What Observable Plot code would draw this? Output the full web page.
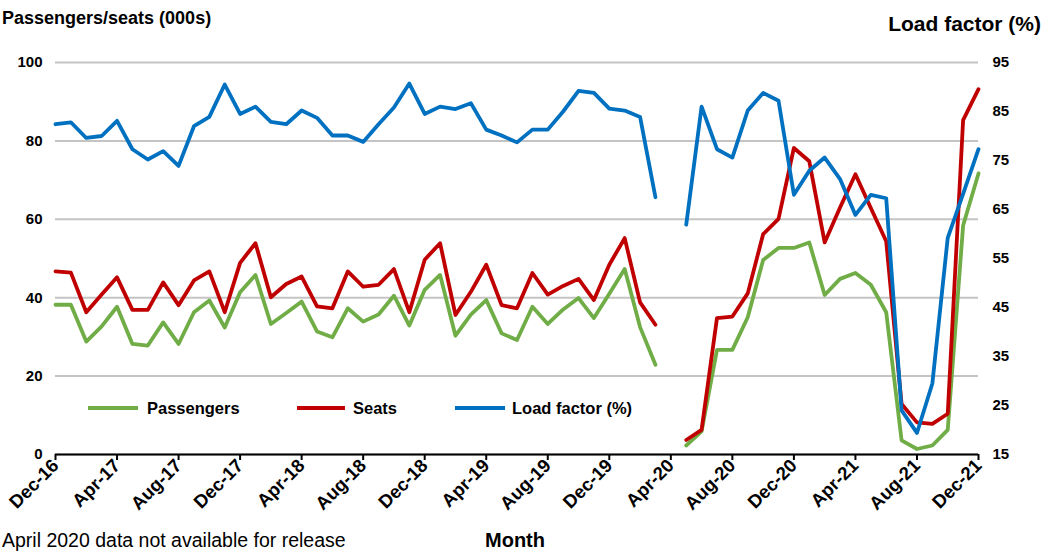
<!DOCTYPE html>
<html><head><meta charset="utf-8">
<script src="https://cdn.jsdelivr.net/npm/d3@7"></script>
<script src="https://cdn.jsdelivr.net/npm/@observablehq/plot@0.6"></script>
<style>
html,body{margin:0;padding:0;background:#fff;overflow:hidden;}
#chart{position:relative;width:1046px;height:553px;overflow:hidden;}
</style></head><body><div id="chart"></div>
<script>
const months = ["Dec-16","Jan-17","Feb-17","Mar-17","Apr-17","May-17","Jun-17","Jul-17","Aug-17","Sep-17","Oct-17","Nov-17",
"Dec-17","Jan-18","Feb-18","Mar-18","Apr-18","May-18","Jun-18","Jul-18","Aug-18","Sep-18","Oct-18","Nov-18",
"Dec-18","Jan-19","Feb-19","Mar-19","Apr-19","May-19","Jun-19","Jul-19","Aug-19","Sep-19","Oct-19","Nov-19",
"Dec-19","Jan-20","Feb-20","Mar-20","Apr-20","May-20","Jun-20","Jul-20","Aug-20","Sep-20","Oct-20","Nov-20",
"Dec-20","Jan-21","Feb-21","Mar-21","Apr-21","May-21","Jun-21","Jul-21","Aug-21","Sep-21","Oct-21","Nov-21","Dec-21"];
const passengers = [38.2,38.2,28.8,32.7,37.7,28.2,27.8,33.7,28.2,36.3,39.3,32.4,
41.4,45.8,33.3,36.1,39.0,31.4,29.9,37.3,33.9,35.7,40.5,32.9,
42.0,45.8,30.3,35.7,39.4,30.9,29.2,37.7,33.3,37.0,39.9,34.8,
41.0,47.3,32.5,22.9,null,2.3,5.9,26.7,26.7,35.0,49.6,52.7,
52.7,54.1,40.7,44.8,46.3,43.3,36.3,3.6,1.4,2.3,6.3,58.4,71.7];
const seats = [46.7,46.4,36.3,40.8,45.2,36.9,36.9,43.9,38.1,44.4,46.7,36.3,
48.9,53.9,40.1,43.5,45.4,37.8,37.3,46.7,42.8,43.3,47.3,36.3,
49.7,53.9,35.6,41.5,48.4,38.1,37.3,46.3,40.8,43.0,44.8,39.4,
48.4,55.2,38.8,33.1,null,3.7,6.3,34.8,35.2,41.1,56.2,60.1,
78.2,74.8,54.1,63.0,71.5,62.9,54.4,12.9,8.2,7.8,10.4,85.3,93.2];
const loadFactor = [82.4,82.8,79.6,80.0,83.1,77.3,75.2,76.9,73.9,82.0,83.9,90.5,
84.5,86.0,82.9,82.4,85.2,83.7,80.1,80.1,78.8,82.4,85.8,90.7,
84.5,86.0,85.5,86.7,81.3,80.1,78.7,81.3,81.3,85.0,89.2,88.8,
85.6,85.2,83.9,67.5,null,61.9,86.0,77.3,75.6,85.2,88.8,87.2,
68.0,72.9,75.6,71.2,63.9,68.0,67.3,24.0,19.4,29.5,59.2,68.2,77.3];
const leftTicks = [0,20,40,60,80,100];
const rightTicks = [15,25,35,45,55,65,75,85,95];
const xTickMonths = ["Dec-16","Apr-17","Aug-17","Dec-17","Apr-18","Aug-18","Dec-18","Apr-19","Aug-19","Dec-19","Apr-20","Aug-20","Dec-20","Apr-21","Aug-21","Dec-21"];

const GREEN = "#70AD47", RED = "#C00000", BLUE = "#0070C0";
const FONT = "Arial, 'Liberation Sans', sans-serif";
// right axis (15..95) mapped onto the left scale (0..100)
const lfToLeft = v => (v - 15) * 100 / 80;
const leftToLf = v => v * 80 / 100 + 15;

const data = months.map((m, i) => ({i, m, p: passengers[i], s: seats[i], lf: loadFactor[i] == null ? null : lfToLeft(loadFactor[i])}));
const xTicks = xTickMonths.map(m => months.indexOf(m));

const plot = Plot.plot({
  width: 1046, height: 553,
  marginLeft: 55, marginRight: 68, marginTop: 62, marginBottom: 99,
  style: {fontFamily: FONT, background: "#fff", color: "#000"},
  x: {type: "linear", domain: [0, months.length - 1]},
  y: {domain: [0, 100]},
  marks: [
    Plot.gridY(leftTicks, {stroke: "#c4c4c4", strokeOpacity: 1, strokeWidth: 2}),
    Plot.axisY(leftTicks, {anchor: "left", tickSize: 0, tickPadding: 13, fontSize: 15, fontWeight: "bold", label: null}),
    Plot.axisY(rightTicks.map(lfToLeft), {anchor: "right", tickSize: 0, tickPadding: 14, tickFormat: d => String(Math.round(leftToLf(d))), fontSize: 15, fontWeight: "bold", label: null}),
    Plot.axisX(xTicks, {anchor: "bottom", tickSize: 6, tickPadding: 2, tickRotate: -45, tickFormat: i => months[i], fontSize: 18.5, fontWeight: "bold", label: null, strokeWidth: 2}),
    Plot.ruleY([0], {stroke: "#000", strokeWidth: 2}),
    Plot.line(data, {x: "i", y: "p", stroke: GREEN, strokeWidth: 3.8, strokeLinejoin: "round"}),
    Plot.line(data, {x: "i", y: "s", stroke: RED, strokeWidth: 3.8, strokeLinejoin: "round"}),
    Plot.line(data, {x: "i", y: "lf", stroke: BLUE, strokeWidth: 3.8, strokeLinejoin: "round"})
  ]
});
document.getElementById("chart").appendChild(plot);

const svg = d3.select(plot);
const addText = (x, y, t, opts) => {
  const el = svg.append("text").attr("x", x).attr("y", y).text(t)
    .attr("font-family", FONT).attr("fill", "#000").attr("text-anchor", "start");
  for (const k in opts) el.attr(k, opts[k]);
  return el;
};
addText(2, 24, "Passengers/seats (000s)", {"font-size": 18, "font-weight": "bold"});
addText(1041, 31, "Load factor (%)", {"font-size": 21, "font-weight": "bold", "text-anchor": "end"});
addText(515, 547, "Month", {"font-size": 20, "font-weight": "bold", "text-anchor": "middle"});
addText(2, 547, "April 2020 data not available for release", {"font-size": 19.5});

const legend = [
  {label: "Passengers", color: GREEN, x0: 88, x1: 138, tx: 147},
  {label: "Seats", color: RED, x0: 297, x1: 345, tx: 353},
  {label: "Load factor (%)", color: BLUE, x0: 455, x1: 505, tx: 512}
];
for (const l of legend) {
  svg.append("line").attr("x1", l.x0).attr("x2", l.x1).attr("y1", 408).attr("y2", 408)
    .attr("stroke", l.color).attr("stroke-width", 4);
  addText(l.tx, 414, l.label, {"font-size": 16.5, "font-weight": "bold"});
}
</script></body></html>
